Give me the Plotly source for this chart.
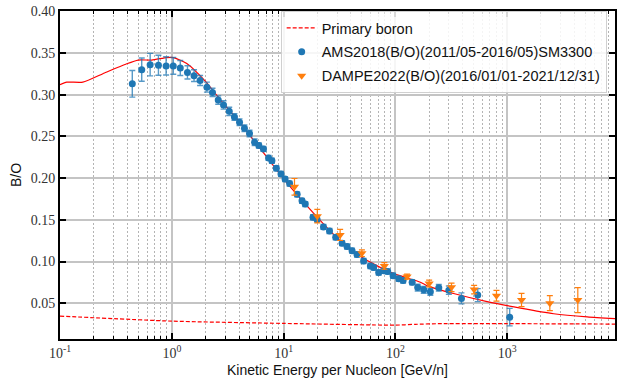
import plotly.graph_objects as go

# AMS-02 B/O ratio (kinetic energy per nucleon in GeV/n)
ams_e = [0.443, 0.538, 0.64, 0.759, 0.889, 1.03, 1.19, 1.38, 1.58, 1.79, 2.06, 2.31,
         2.6, 2.9, 3.26, 3.63, 4.03, 4.46, 4.95, 5.5, 6.0, 6.6, 7.33, 7.85, 8.6, 9.47,
         10.3, 11.3, 13.2, 14.6, 15.6, 18.3, 19.9, 22.7, 25.7, 29.2, 33.3, 36.9, 40.9,
         45.3, 51.9, 59.6, 63.8, 70.8, 78.5, 85.2, 95.2, 107, 117, 141, 158, 179, 205,
         244, 300, 389, 544, 1050]
ams_r = [0.313, 0.330, 0.336, 0.3353, 0.3345, 0.3345, 0.332, 0.3267, 0.3228, 0.317,
         0.309, 0.3027, 0.2936, 0.2877, 0.280, 0.2733, 0.267, 0.2597, 0.2534, 0.243,
         0.239, 0.235, 0.2242, 0.2207, 0.2117, 0.205, 0.1988, 0.1934, 0.1805, 0.1727,
         0.1688, 0.153, 0.1505, 0.1415, 0.1365, 0.129, 0.122, 0.118, 0.113, 0.1084,
         0.1006, 0.0947, 0.0928, 0.0869, 0.0889, 0.0881, 0.0830, 0.0792, 0.0772,
         0.0752, 0.0687, 0.0660, 0.0636, 0.0685, 0.0656, 0.0558, 0.0597, 0.0333]
ams_err = [0.016, 0.014, 0.0135, 0.012, 0.011, 0.010, 0.009, 0.008, 0.007, 0.006,
           0.006, 0.005, 0.005, 0.005, 0.005, 0.004, 0.004, 0.004, 0.004, 0.004,
           0.003, 0.003, 0.003, 0.003, 0.003, 0.003, 0.003, 0.003, 0.003, 0.003,
           0.003, 0.003, 0.003, 0.003, 0.003, 0.003, 0.003, 0.003, 0.003, 0.003,
           0.003, 0.003, 0.003, 0.003, 0.003, 0.003, 0.003, 0.003, 0.003, 0.003,
           0.004, 0.004, 0.004, 0.004, 0.005, 0.0066, 0.0078, 0.0105]

# DAMPE B/O ratio
dampe_e = [12.5, 20.0, 32.0, 50.1, 79.5, 127, 200, 317, 505, 800, 1340, 2400, 4270]
dampe_r = [0.1895, 0.1544, 0.1318, 0.110, 0.0947, 0.0819, 0.0737, 0.0690, 0.0663,
           0.0590, 0.0538, 0.0500, 0.0538]
dampe_err = [0.010, 0.008, 0.0066, 0.004, 0.004, 0.003, 0.004, 0.005, 0.005,
             0.0065, 0.008, 0.009, 0.015]

# Model: total B/O prediction
model_e = [0.1, 0.115, 0.16, 0.25, 0.395, 0.5, 0.66, 0.9, 1.03, 1.36, 2.0, 2.6, 3.0,
           4.0, 5.0, 7.0, 10, 13, 20, 32, 50, 90, 167, 198, 331, 660, 1312, 2600,
           5190, 9200]
model_r = [0.312, 0.315, 0.315, 0.326, 0.337, 0.3415, 0.3415, 0.3445, 0.3445, 0.3375,
           0.316, 0.297, 0.287, 0.268, 0.251, 0.226, 0.199, 0.181, 0.153, 0.125,
           0.105, 0.087, 0.0752, 0.0702, 0.0616, 0.0518, 0.0441, 0.0374, 0.0336,
           0.0315]

# Model: primary boron contribution
prim_e = [0.1, 1.0, 10, 100, 150, 250, 1000, 9200]
prim_r = [0.0345, 0.0285, 0.0258, 0.0237, 0.0247, 0.0255, 0.0255, 0.0250]

y_ticks = [0.05, 0.10, 0.15, 0.20, 0.25, 0.30, 0.35, 0.40]
x_ticks = [0.1, 1, 10, 100, 1000]
x_ticktext = ["10<sup>-1</sup>", "10<sup>0</sup>", "10<sup>1</sup>",
              "10<sup>2</sup>", "10<sup>3</sup>"]
# minor ticks at 2..9 within each decade
x_minor = [m * d for d in (0.1, 1, 10, 100, 1000) for m in range(2, 10)]

BLUE = "#1f77b4"
ORANGE = "#ff7f0e"
RED = "#ff0000"

fig = go.Figure()

fig.add_trace(go.Scatter(
    x=prim_e, y=prim_r, mode="lines", name="Primary boron", legendgroup="a",
    line=dict(color=RED, width=1.2, dash="4px,2px", shape="spline", smoothing=0.5)))

fig.add_trace(go.Scatter(
    x=model_e, y=model_r, mode="lines", showlegend=False,
    line=dict(color=RED, width=1.2, shape="spline", smoothing=0.6)))

fig.add_trace(go.Scatter(
    x=ams_e, y=ams_r, mode="markers", name="AMS2018(B/O)(2011/05-2016/05)SM3300",
    legendgroup="b",
    marker=dict(color=BLUE, size=7, symbol="circle"),
    error_y=dict(type="data", array=ams_err, color="rgba(31,119,180,0.75)",
                 thickness=1.4, width=3)))

fig.add_trace(go.Scatter(
    x=dampe_e, y=dampe_r, mode="markers", name="DAMPE2022(B/O)(2016/01/01-2021/12/31)",
    legendgroup="c",
    marker=dict(color=ORANGE, size=8, symbol="triangle-down"),
    error_y=dict(type="data", array=dampe_err, color=ORANGE, thickness=1.2, width=3)))

tick_font = dict(family="Liberation Serif", size=14, color="#333333")
label_font = dict(family="Liberation Sans", size=14, color="#111111")

fig.update_xaxes(
    type="log", range=[-1, 3.963],
    tickmode="array", tickvals=x_ticks, ticktext=x_ticktext, tickfont=tick_font,
    ticks="inside", ticklen=6, tickwidth=1.5, tickcolor="black",
    showline=True, linecolor="black", linewidth=2, mirror="allticks",
    showgrid=True, gridcolor="#c4c4c4", gridwidth=1.5,
    minor=dict(tickmode="array", tickvals=x_minor, ticks="inside", ticklen=3,
               tickwidth=1, tickcolor="black", showgrid=True, gridcolor="#b4b4b4",
               griddash="2px,2px", gridwidth=0.8),
    title=dict(text="Kinetic Energy per Nucleon [GeV/n]", font=label_font, standoff=5),
    zeroline=False)

fig.update_yaxes(
    range=[0.0071, 0.4003],
    tickmode="array", tickvals=y_ticks, tickformat=".2f", tickfont=tick_font,
    ticklabeloverflow="allow",
    ticks="inside", ticklen=6, tickwidth=1.5, tickcolor="black",
    showline=True, linecolor="black", linewidth=2, mirror="allticks",
    showgrid=True, gridcolor="#c4c4c4", gridwidth=1.5,
    title=dict(text="B/O", font=label_font, standoff=6),
    zeroline=False)

fig.update_layout(
    width=624, height=380,
    margin=dict(l=60, r=9, t=4, b=40),
    paper_bgcolor="white", plot_bgcolor="white",
    legend=dict(x=0.985, y=1.0, xanchor="right", yanchor="top",
                bgcolor="rgba(255,255,255,0.85)", bordercolor="#d0d0d0", borderwidth=1,
                font=dict(family="Liberation Sans", size=14.5, color="#111111"),
                itemwidth=30, tracegroupgap=2),
)

fig.write_html("out.html")
